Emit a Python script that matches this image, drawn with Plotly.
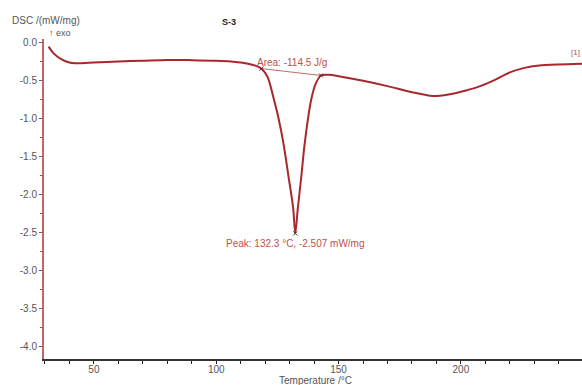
import plotly.graph_objects as go

# DSC curve
temperature = [31.5, 33, 35, 37, 39, 41, 44, 50, 60, 70, 80, 90, 100, 106, 110, 113, 116, 118.5,
               121, 123.6, 125.5, 127.5, 129.5, 131.4, 132.3, 133.4, 134.8, 136, 137.5, 138.8,
               140.5, 142.8, 146, 150, 160, 170, 180, 188.5, 195, 200, 207, 213, 220, 226, 232,
               240, 249.5]
dsc = [-0.05, -0.12, -0.18, -0.22, -0.25, -0.265, -0.27, -0.26, -0.245, -0.235, -0.225, -0.228,
       -0.235, -0.245, -0.26, -0.275, -0.3, -0.34,
       -0.45, -0.75, -1.0, -1.33, -1.75, -2.16, -2.507, -2.16, -1.75, -1.37, -1.0, -0.75,
       -0.55, -0.43, -0.42, -0.44, -0.5, -0.57, -0.65, -0.70, -0.68, -0.645, -0.58, -0.5,
       -0.39, -0.33, -0.3, -0.285, -0.275]

baseline_t = [118.5, 142.8]
baseline_v = [-0.34, -0.43]
peak_t = 132.3
peak_v = -2.507
area_text = "Area: -114.5 J/g"
peak_text = "Peak: 132.3 °C, -2.507 mW/mg"

x_range = [29.6, 249.5]
y_range = [-4.16, 0.05]
y_ticks = [0.0, -0.5, -1.0, -1.5, -2.0, -2.5, -3.0, -3.5, -4.0]
x_ticks = [50, 100, 150, 200]

curve_col = "#a8282c"
ann_col = "#c0504d"
FAM = "Liberation Sans, Arial, sans-serif"

fig = go.Figure()
fig.add_trace(go.Scatter(x=baseline_t, y=baseline_v, mode="lines",
                         line=dict(color="#c86a6a", width=1), hoverinfo="skip"))
fig.add_trace(go.Scatter(x=temperature, y=dsc, mode="lines",
                         line=dict(color=curve_col, width=2, shape="spline", smoothing=0.8)))
fig.add_trace(go.Scatter(x=[baseline_t[0], baseline_t[1], peak_t], y=[baseline_v[0], baseline_v[1], peak_v],
                         mode="markers", marker=dict(symbol="x-thin", size=4, color="#333",
                                                     line=dict(width=1, color="#333"))))

font = dict(family=FAM, size=10, color="#555")

fig.update_layout(
    width=582, height=385,
    margin=dict(l=44, r=0, t=39, b=26),
    paper_bgcolor="white", plot_bgcolor="white",
    showlegend=False,
    font=font,
    xaxis=dict(range=x_range, tickvals=x_ticks, ticks="outside", ticklen=3, tickcolor="#222",
               ticklabelstandoff=-3,
               showline=True, linecolor="#333", linewidth=2, showgrid=False, zeroline=False,
               minor=dict(dtick=10, ticks="outside", ticklen=3, tickcolor="#222"),
               tickfont=font),
    yaxis=dict(range=y_range, tickvals=y_ticks, ticktext=[f"{v:.1f}" for v in y_ticks],
               ticks="outside", ticklen=3, tickcolor="#b04040",
               showline=True, linecolor="#c06464", linewidth=2, showgrid=False, zeroline=False,
               minor=dict(dtick=0.25, ticks="outside", ticklen=2, tickcolor="#b04040"),
               tickfont=font),
)

anns = [
    dict(text="DSC /(mW/mg)", x=46, y=20, color="#555", size=10, anchor="center"),
    dict(text="↑ exo", x=60, y=33, color="#555", size=9, anchor="center"),
    dict(text="<b>S-3</b>", x=229, y=22, color="#222", size=9, anchor="center"),
    dict(text="Temperature /°C", x=315, y=380, color="#555", size=10, anchor="center"),
    dict(text="[1]", x=582, y=52, color=ann_col, size=8, anchor="right"),
]
for a in anns:
    fig.add_annotation(text=a["text"], xref="paper", yref="paper",
                       x=(a["x"] - 44) / 538, y=(359 - a["y"]) / 320,
                       xanchor=a["anchor"], yanchor="middle", showarrow=False,
                       font=dict(family=FAM, size=a["size"], color=a["color"]))

fig.add_annotation(text=area_text, x=131, y=-0.255, xref="x", yref="y", showarrow=False,
                   font=dict(family=FAM, size=10, color=ann_col))
fig.add_annotation(text=peak_text, x=132.5, y=-2.64, xref="x", yref="y", showarrow=False,
                   font=dict(family=FAM, size=10, color=ann_col))

fig.write_html("out.html", config={"displayModeBar": False},
               post_script="document.body.style.margin='0';document.body.style.overflow='hidden';")
